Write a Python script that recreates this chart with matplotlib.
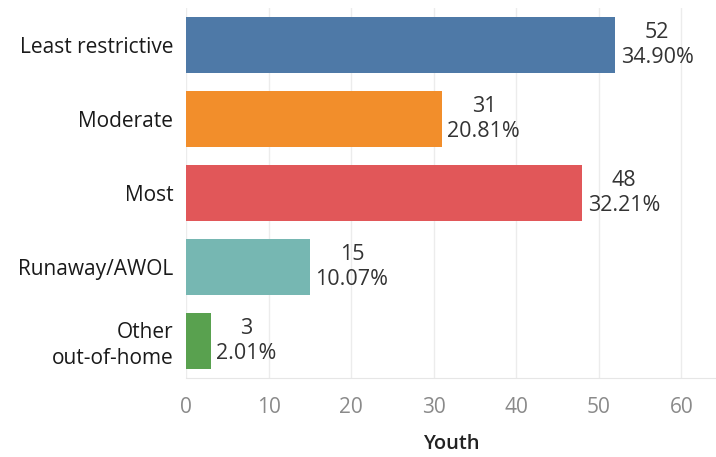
import matplotlib.pyplot as plt

categories = ['Least restrictive', 'Moderate', 'Most', 'Runaway/AWOL', 'Other\nout-of-home']
youth = [52, 31, 48, 15, 3]
pct = [34.90, 20.81, 32.21, 10.07, 2.01]
colors = ['#4e79a7', '#f28e2b', '#e15759', '#76b7b2', '#59a14f']

plt.rcParams['font.family'] = ['Open Sans', 'DejaVu Sans']

fig = plt.figure(figsize=(7.16, 4.57), dpi=100)
ax = fig.add_axes([186/716, 1 - 378/457, 530/716, 370/457])

ypos = list(range(len(categories)))
ax.barh(ypos, youth, height=0.75, color=colors, zorder=2)
for y, v, p in zip(ypos, youth, pct):
    ax.annotate(f'{v}\n{p:.2f}%', (v, y), xytext=(4, 0), textcoords='offset points',
                ha='left', va='center', multialignment='center',
                fontsize=15.5, color='#333333', linespacing=1.28)

ax.set_xlim(0, 64.2)
ax.set_ylim(4.5, -0.5)
ax.set_yticks(ypos)
ax.set_yticklabels(categories, fontsize=15, color='#1a1a1a', linespacing=1.25,
                   fontweight='medium')
ax.set_xticks(range(0, 61, 10))
ax.tick_params(axis='x', colors='#8a8a8a', labelsize=15, length=0, pad=14)
ax.tick_params(axis='y', length=0, pad=9)
ax.grid(axis='x', color='#ececec', linewidth=1, zorder=0)
for s in ['top', 'right', 'left']:
    ax.spines[s].set_visible(False)
ax.spines['bottom'].set_color('#e6e6e6')
ax.set_xlabel('Youth', fontsize=14.5, color='#222222', labelpad=11, fontweight='semibold')

fig.savefig('out.png', dpi=100)
